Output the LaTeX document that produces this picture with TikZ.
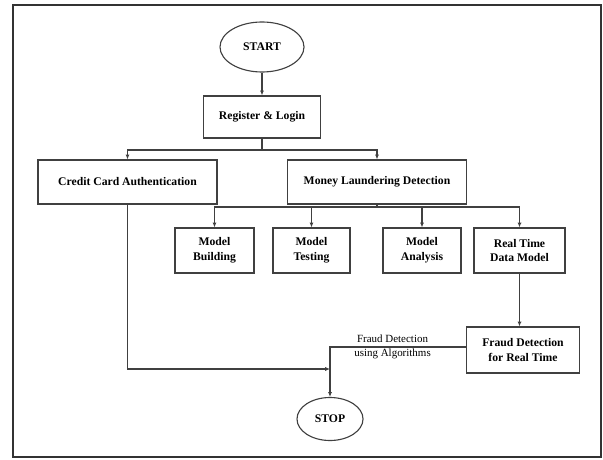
\documentclass[tikz,border=0pt]{standalone}
\usepackage{fontspec}
\setmainfont{Liberation Serif}
\usetikzlibrary{arrows.meta,shapes.geometric}
\tikzset{
  stepbox/.style={draw=black!75,line width=0.8pt,rectangle,align=center,
    font=\fontsize{8.3}{10.5}\selectfont\bfseries,inner sep=1pt},
  terminal/.style={draw=black!75,line width=0.8pt,ellipse,
    font=\fontsize{8.3}{10}\selectfont\bfseries,inner sep=1pt},
  flow/.style={draw=black!75,line width=0.8pt}
}
\begin{document}
\begin{tikzpicture}[x=0.025cm,y=-0.025cm,>={Latex[length=3.5pt,width=3pt]}]
    \useasboundingbox (0,0) rectangle (603,459);
    \draw[line width=1.5pt,black!80] (13,5) rectangle (601,457);
    % nodes
    \node[terminal,minimum width=2.1cm,minimum height=1.25cm] (start) at (262,47) {START};
    \node[stepbox,minimum width=2.925cm,minimum height=1.05cm] (reg) at (262,117) {Register \& Login};
    \node[stepbox,minimum width=4.475cm,minimum height=1.1cm] (cca) at (127.5,182) {Credit Card Authentication};
    \node[stepbox,minimum width=4.475cm,minimum height=1.1cm] (mld) at (377,182) {Money Laundering Detection};
    \node[stepbox,minimum width=1.975cm,minimum height=1.125cm] (mb) at (214.5,250.5) {Model\\Building};
    \node[stepbox,minimum width=1.925cm,minimum height=1.125cm] (mt) at (311.5,250.5) {Model\\Testing};
    \node[stepbox,minimum width=1.95cm,minimum height=1.125cm] (ma) at (422,250.5) {Model\\Analysis};
    \node[stepbox,minimum width=2.275cm,minimum height=1.125cm] (rt) at (519.5,250.5) {Real Time\\Data Model};
    \node[stepbox,minimum width=2.825cm,minimum height=1.15cm] (frt) at (523,350) {Fraud Detection\\for Real Time};
    \node[terminal,minimum width=1.65cm,minimum height=1.075cm] (stop) at (330,419) {STOP};
    \coordinate (fork1) at (262,150);
    \coordinate (fork2) at (377,207);
    \coordinate (join) at (330,369);
    % connectors
    \draw[flow,->] (start) -- (reg);
    \draw[flow] (reg) -- (fork1);
    \draw[flow,->] (fork1) -| (cca);
    \draw[flow,->] (fork1) -| (mld);
    \draw[flow] (mld) -- (fork2);
    \draw[flow,->] (fork2) -| (mb);
    \draw[flow,->] (fork2) -| (mt);
    \draw[flow,->] (fork2) -| (ma);
    \draw[flow,->] (fork2) -| (rt);
    \draw[flow,->] (rt) -- (rt |- frt.north);
    \draw[flow,->] (cca) |- (join);
    \draw[flow,->] ([yshift=0.075cm]frt.west) -| (stop)
      node[pos=0.27,align=center,font=\fontsize{7.8}{10}\selectfont] {Fraud Detection\\using Algorithms};
\end{tikzpicture}
\end{document}
